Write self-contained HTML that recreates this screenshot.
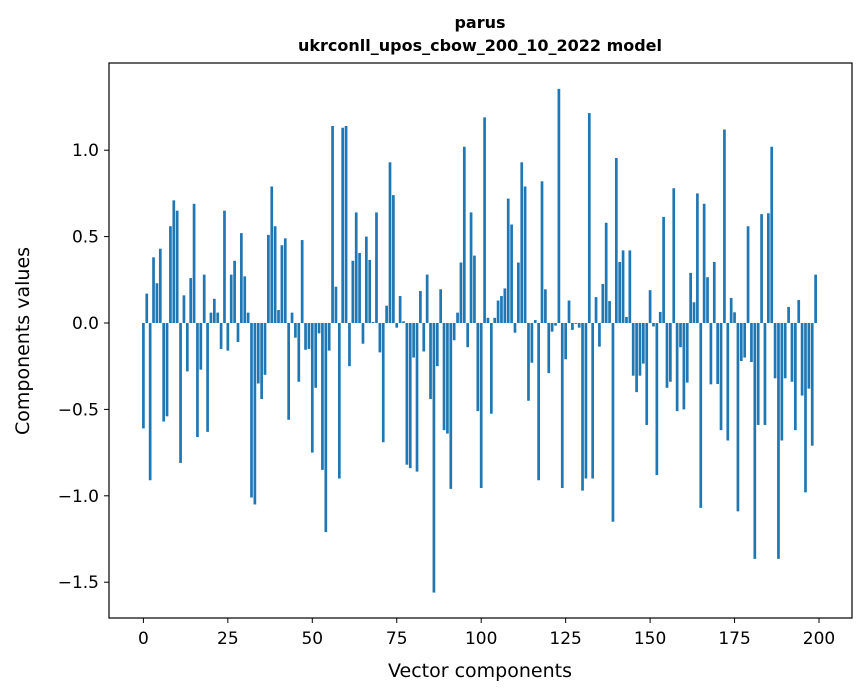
<!DOCTYPE html>
<html><head><meta charset="utf-8"><style>
body{margin:0;background:#fff;font-family:"DejaVu Sans",sans-serif;}
</style></head><body>
<svg id="chart" width="867" height="696" xmlns="http://www.w3.org/2000/svg" font-family="DejaVu Sans, Liberation Sans, sans-serif">
<rect width="867" height="696" fill="#fff"/>
<text x="480" y="28" text-anchor="middle" font-size="16" font-weight="bold">parus</text>
<text x="480" y="51" text-anchor="middle" font-size="16" font-weight="bold">ukrconll_upos_cbow_200_10_2022 model</text>
<g id="bars"></g>
<g id="xticks"></g>
<g id="yticks"></g>
<rect x="109" y="63" width="743" height="555" fill="none" stroke="#000" stroke-width="1.2"/>
<text x="480" y="677" text-anchor="middle" font-size="19">Vector components</text>
<text transform="translate(29,341) rotate(-90)" text-anchor="middle" font-size="19">Components values</text>
</svg>
<script>
const values=[-0.61,0.17,-0.91,0.38,0.23,0.43,-0.57,-0.54,0.56,0.71,0.65,-0.81,0.16,-0.28,0.26,0.69,-0.66,-0.27,0.28,-0.63,
0.06,0.14,0.06,-0.15,0.65,-0.16,0.28,0.36,-0.11,0.52,0.27,0.06,-1.01,-1.05,-0.35,-0.44,-0.30,0.51,0.79,0.56,
0.075,0.45,0.49,-0.56,0.06,-0.085,-0.34,0.48,-0.155,-0.15,-0.75,-0.375,-0.06,-0.85,-1.21,-0.16,1.14,0.21,-0.90,1.13,
1.14,-0.25,0.36,0.64,0.405,-0.12,0.50,0.365,0.006,0.64,-0.17,-0.69,0.10,0.93,0.74,-0.027,0.156,0.01,-0.82,-0.84,
-0.20,-0.86,0.185,-0.165,0.28,-0.44,-1.56,-0.25,0.195,-0.62,-0.64,-0.96,-0.10,0.06,0.35,1.02,-0.14,0.64,0.39,-0.51,
-0.955,1.19,0.03,-0.525,0.03,0.13,0.156,0.20,0.72,0.57,-0.056,0.35,0.93,0.79,-0.45,-0.23,0.017,-0.91,0.82,0.195,
-0.29,-0.05,-0.015,1.355,-0.955,-0.21,0.13,-0.04,-0.005,-0.027,-0.97,-0.90,1.215,-0.90,0.15,-0.137,0.226,0.58,0.127,-1.15,
0.955,0.353,0.42,0.035,0.42,-0.305,-0.40,-0.305,-0.235,-0.59,0.19,-0.02,-0.88,0.064,0.614,-0.375,-0.34,0.78,-0.51,-0.14,
-0.50,-0.345,0.29,0.12,0.75,-1.07,0.69,0.265,-0.355,0.353,-0.353,-0.62,1.12,-0.68,0.145,0.062,-1.09,-0.22,-0.20,0.56,
-0.226,-1.365,-0.59,0.63,-0.59,0.635,1.02,-0.32,-1.365,-0.68,-0.32,0.093,-0.34,-0.62,0.133,-0.42,-0.98,-0.38,-0.71,0.28];
const xTicks=[0,25,50,75,100,125,150,175,200];
const yTicks=[-1.5,-1.0,-0.5,0.0,0.5,1.0];
const yTickLabels=["\u22121.5","\u22121.0","\u22120.5","0.0","0.5","1.0"];
const NS="http://www.w3.org/2000/svg";
const xs=i=>143.4+i*3.378;
const ys=v=>323-v*172.8;
const bars=document.getElementById('bars');
values.forEach((v,i)=>{
  const r=document.createElementNS(NS,'rect');
  
  
  const y0=ys(0),y1=ys(v);
  r.setAttribute('x',xs(i)-1.35);r.setAttribute('width',2.7);
  r.setAttribute('y',Math.min(y0,y1));r.setAttribute('height',Math.abs(y1-y0));
  r.setAttribute('fill','#1f77b4');
  bars.appendChild(r);
});
const xg=document.getElementById('xticks');
xTicks.forEach(t=>{
  const l=document.createElementNS(NS,'line');
  
  
  l.setAttribute('x1',xs(t));l.setAttribute('x2',xs(t));l.setAttribute('y1',618);l.setAttribute('y2',623);l.setAttribute('stroke','#000');
  xg.appendChild(l);
  const tx=document.createElementNS(NS,'text');
  
  
  tx.setAttribute('x',xs(t));tx.setAttribute('y',644);tx.setAttribute('text-anchor','middle');tx.setAttribute('font-size','17');
  tx.textContent=t;xg.appendChild(tx);
});
const yg=document.getElementById('yticks');
yTicks.forEach((t,k)=>{
  const l=document.createElementNS(NS,'line');
  
  
  l.setAttribute('x1',104);l.setAttribute('x2',109);l.setAttribute('y1',ys(t));l.setAttribute('y2',ys(t));l.setAttribute('stroke','#000');
  yg.appendChild(l);
  const tx=document.createElementNS(NS,'text');
  
  
  tx.setAttribute('x',99);tx.setAttribute('y',ys(t)+6);tx.setAttribute('text-anchor','end');tx.setAttribute('font-size','17');
  tx.textContent=yTickLabels[k];yg.appendChild(tx);
});
</script>
</body></html>
